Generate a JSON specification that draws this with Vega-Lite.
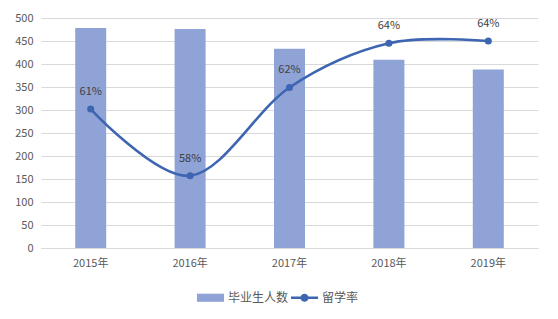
{
  "$schema": "https://vega.github.io/schema/vega-lite/v6.json",
  "autosize": {"type": "none"},
  "width": 497,
  "height": 230,
  "padding": {"left": 41, "top": 18, "right": 20, "bottom": 71},
  "background": "white",
  "config": {
    "font": "Noto Sans CJK SC",
    "view": {"stroke": null},
    "axis": {"labelFont": "Noto Sans CJK SC", "labelFontSize": 11, "labelColor": "#595959", "title": null, "gridColor": "#D9D9D9", "gridWidth": 1}
  },
  "data": {"values": [
    {"year": "2015年", "grads": 478, "rate": 302, "label": "61%"},
    {"year": "2016年", "grads": 476, "rate": 157, "label": "58%"},
    {"year": "2017年", "grads": 433, "rate": 349, "label": "62%"},
    {"year": "2018年", "grads": 409, "rate": 445, "label": "64%"},
    {"year": "2019年", "grads": 388, "rate": 450, "label": "64%"}
  ]},
  "encoding": {
    "x": {"field": "year", "type": "nominal", "sort": null,
      "scale": {"paddingInner": 0, "paddingOuter": 0},
      "axis": {"labelAngle": 0, "ticks": false, "tickSize": 0, "labelPadding": 9, "domainColor": "#D9D9D9", "grid": false}}
  },
  "layer": [
    {
      "mark": {"type": "bar", "size": 31},
      "encoding": {
        "y": {"field": "grads", "type": "quantitative",
          "scale": {"domain": [0, 500], "nice": false},
          "axis": {"values": [0, 50, 100, 150, 200, 250, 300, 350, 400, 450, 500], "labelOverlap": false, "domain": false, "ticks": false, "tickSize": 0, "labelPadding": 8}},
        "color": {"datum": "毕业生人数", "type": "nominal",
          "scale": {"domain": ["毕业生人数", "留学率"], "range": ["#8FA3D6", "#3D65B1"]},
          "legend": {
            "orient": "none", "legendX": 156, "legendY": 266, "direction": "horizontal",
            "title": null, "symbolSize": 729, "labelFontSize": 12, "labelColor": "#595959",
            "labelOffset": 4, "columnPadding": 2,
            "encode": {"symbols": {"update": {
              "shape": {"signal": "datum.value === '留学率' ? 'M-1,-0.09H-0.286A0.3,0.3 0 0 1 0.286,-0.09H1V0.09H0.286A0.3,0.3 0 0 1 -0.286,0.09H-1Z' : 'M-1,-0.3H1V0.3H-1Z'"},
              "fill": {"scale": "color", "field": "value"},
              "stroke": {"value": "transparent"},
              "strokeWidth": {"value": 0},
              "opacity": {"value": 1}
            }}}
          }}
      }
    },
    {
      "mark": {"type": "line", "interpolate": "cardinal", "strokeWidth": 2.6, "point": {"filled": true, "size": 50, "opacity": 1}},
      "encoding": {
        "y": {"field": "rate", "type": "quantitative", "axis": {"values": [0, 50, 100, 150, 200, 250, 300, 350, 400, 450, 500], "labelOverlap": false, "domain": false, "ticks": false, "tickSize": 0, "labelPadding": 8}},
        "color": {"datum": "留学率", "type": "nominal"}
      }
    },
    {
      "mark": {"type": "text", "dy": -17, "fontSize": 11, "color": "#404040", "baseline": "middle"},
      "encoding": {
        "y": {"field": "rate", "type": "quantitative", "axis": {"values": [0, 50, 100, 150, 200, 250, 300, 350, 400, 450, 500], "labelOverlap": false, "domain": false, "ticks": false, "tickSize": 0, "labelPadding": 8}},
        "text": {"field": "label"}
      }
    }
  ]
}
